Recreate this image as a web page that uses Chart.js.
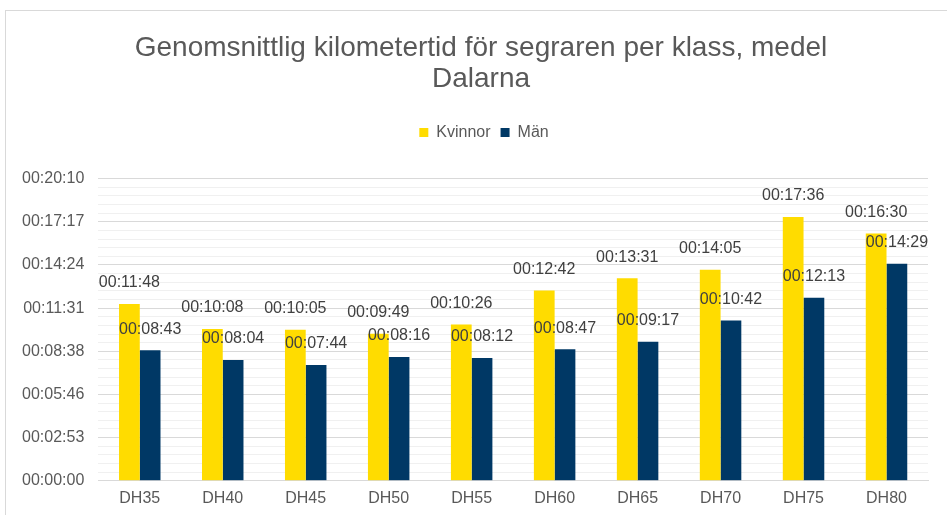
<!DOCTYPE html>
<html>
<head>
<meta charset="utf-8">
<script src="https://cdn.jsdelivr.net/npm/chart.js@4.4.1/dist/chart.umd.min.js"></script>
<style>
  html, body { margin: 0; padding: 0; background: #fff; }
  #wrap { position: relative; width: 947px; height: 515px; overflow: hidden; }
  #frame { position: absolute; left: 5px; top: 10px; width: 1000px; height: 600px; border: 1px solid #d9d9d9; pointer-events: none; }
  canvas { position: absolute; left: 0; top: 0; }
</style>
</head>
<body>
<div id="wrap">
  <canvas id="chart" width="947" height="515"></canvas>
  <div id="frame"></div>
</div>
<script>
// --- Data (seconds per km) ---
const classes = ['DH35', 'DH40', 'DH45', 'DH50', 'DH55', 'DH60', 'DH65', 'DH70', 'DH75', 'DH80'];
const kvinnor = ['00:11:48', '00:10:08', '00:10:05', '00:09:49', '00:10:26', '00:12:42', '00:13:31', '00:14:05', '00:17:36', '00:16:30'];
const man = ['00:08:43', '00:08:04', '00:07:44', '00:08:16', '00:08:12', '00:08:47', '00:09:17', '00:10:42', '00:12:13', '00:14:29'];
const majorTickLabels = ['00:00:00', '00:02:53', '00:05:46', '00:08:38', '00:11:31', '00:14:24', '00:17:17', '00:20:10'];
const majorStep = 172.8;   // 0.002 day
const minorPerMajor = 5;

function toSec(s) {
    const p = s.split(':').map(Number);
    return p[0] * 3600 + p[1] * 60 + p[2];
}

const textColor = '#595959';
const font = 'Arial, "Liberation Sans", sans-serif';

// --- Data labels above each bar ---
const barLabels = {
    id: 'barLabels',
    afterLayout(chart) {
        // title and legend sit a bit right of the plot centre in the original
        chart.titleBlock.left += 13;
        chart.titleBlock.right += 13;
        chart.legend.left += 16;
        chart.legend.right += 16;
    },
    afterDatasetsDraw(chart) {
        const ctx = chart.ctx;
        ctx.save();
        ctx.font = '16px ' + font;
        ctx.fillStyle = '#404040';
        ctx.textAlign = 'center';
        ctx.textBaseline = 'middle';
        chart.data.datasets.forEach((ds, di) => {
            chart.getDatasetMeta(di).data.forEach((bar, i) => {
                ctx.fillText(ds.labelsText[i], bar.x, bar.y - 21);
            });
        });
        ctx.restore();
    }
};

const ctx = document.getElementById('chart').getContext('2d');
new Chart(ctx, {
    type: 'bar',
    data: {
        labels: classes,
        datasets: [
            { label: 'Kvinnor', data: kvinnor.map(toSec), labelsText: kvinnor, backgroundColor: '#FFDC00', barPercentage: 1, categoryPercentage: 0.5 },
            { label: 'Män', data: man.map(toSec), labelsText: man, backgroundColor: '#003865', barPercentage: 1, categoryPercentage: 0.5 }
        ]
    },
    options: {
        responsive: false,
        animation: false,
        layout: { padding: { left: 8, right: 19, bottom: 7 } },
        plugins: {
            title: {
                display: true,
                text: ['Genomsnittlig kilometertid för segraren per klass, medel', 'Dalarna'],
                color: textColor,
                font: { family: font, size: 28, weight: 'normal', lineHeight: 1.1 },
                padding: { top: 33, bottom: 20 }
            },
            legend: {
                position: 'top',
                labels: { color: textColor, font: { family: font, size: 16 }, boxWidth: 9, boxHeight: 9, padding: 10 }
            },
            tooltip: { enabled: false }
        },
        scales: {
            // empty strip that keeps space between legend and plot
            spacer: {
                type: 'category',
                axis: 'x',
                position: 'top',
                grid: { display: false, drawTicks: false },
                border: { display: false },
                ticks: { display: false },
                afterFit(s) { s.height = 28; }
            },
            x: {
                grid: { display: false },
                border: { color: '#d9d9d9' },
                ticks: { color: textColor, font: { family: font, size: 16 }, padding: 0 }
            },
            y: {
                min: 0,
                max: majorStep * (majorTickLabels.length - 1),
                border: { display: false },
                afterBuildTicks(scale) {
                    const n = (majorTickLabels.length - 1) * minorPerMajor;
                    const t = [];
                    for (let i = 0; i <= n; i++) t.push({ value: i * majorStep / minorPerMajor });
                    scale.ticks = t;
                },
                grid: {
                    drawTicks: false,
                    color: c => (c.index % minorPerMajor === 0 ? '#d9d9d9' : '#f0f0f0'),
                    lineWidth: 1
                },
                ticks: {
                    autoSkip: false,
                    color: textColor,
                    font: { family: font, size: 16 },
                    padding: 14,
                    callback: (v, i) => (i % minorPerMajor === 0 ? majorTickLabels[i / minorPerMajor] : '')
                }
            }
        }
    },
    plugins: [barLabels]
});
</script>
</body>
</html>
